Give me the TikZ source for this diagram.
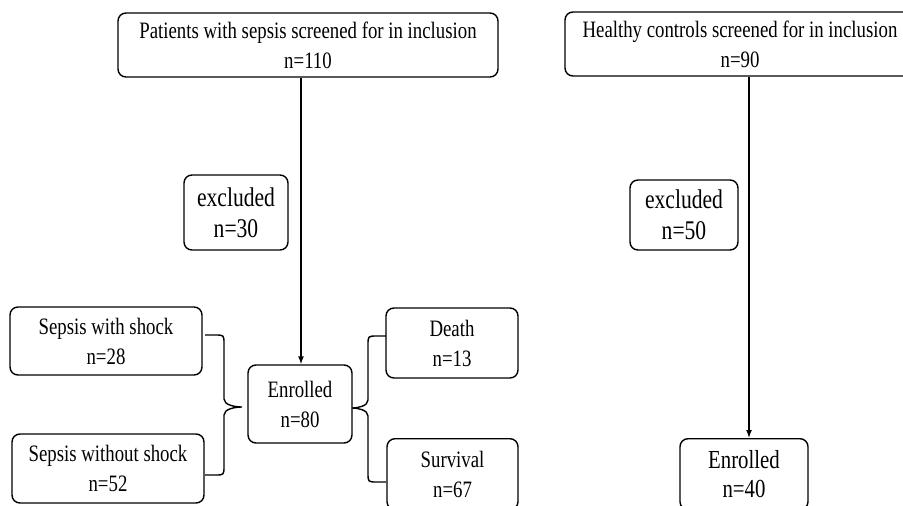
\documentclass[tikz,border=0pt]{standalone}
\usepackage{fontspec}
\setmainfont{Liberation Serif}
\newfontfamily\condserif[FakeStretch=0.8]{Liberation Serif}
\usetikzlibrary{arrows.meta,calc}
\begin{document}
\begin{tikzpicture}[x=1pt,y=-1pt,
  box/.style={draw, rounded corners=8pt, line width=1.4pt, align=center, inner sep=0pt,
    font=\condserif\fontsize{23.5}{30}\selectfont},
  bigbox/.style={box, font=\condserif\fontsize{27}{31}\selectfont},
  conn/.style={line width=1.4pt, -{Latex[length=8pt,width=6pt]}},
  bracel/.style={line width=1.4pt}]
\useasboundingbox (0,0) rectangle (903,506);
\clip (0,0) rectangle (903,506);
% left column
\node[box, minimum width=380pt, minimum height=64pt] (p1) at (308,45) {Patients with sepsis screened for in inclusion\\n=110};
\node[bigbox, minimum width=104pt, minimum height=75pt] (ex1) at (236,212.5) {excluded\\n=30};
\node[box, minimum width=104pt, minimum height=78pt] (en1) at (300,404) {Enrolled\\n=80};
\node[box, minimum width=192pt, minimum height=68pt] (ws) at (106,341) {Sepsis with shock\\n=28};
\node[box, minimum width=192pt, minimum height=69pt] (wos) at (108,468.5) {Sepsis without shock\\n=52};
\node[box, minimum width=132pt, minimum height=70pt] (de) at (452,343) {Death\\n=13};
\node[box, minimum width=131pt, anchor=north, minimum height=71pt] (su) at (452.5,438) {Survival\\n=67};
% right column
\node[box, minimum width=350pt, minimum height=64pt] (h) at (740,44) {Healthy controls screened for in inclusion\\n=90};
\node[bigbox, minimum width=108pt, minimum height=70pt] (ex2) at (684,215) {excluded\\n=50};
\node[box, minimum width=128pt, anchor=north, minimum height=71pt, font=\condserif\fontsize{26}{29}\selectfont] (en2) at (744,438) {Enrolled\\n=40};
% connectors
\draw[conn] (p1.south -| 301,0) -- (en1.north -| 301,0);
\draw[conn] (h.south -| 749,0) -- (en2.north -| 749,0);
% left brace
\coordinate (lbt) at (205,335);
\coordinate (lbb) at (205,475);
\coordinate (lbtip) at (242,407);
\draw[bracel] (lbt) -- (215,335) .. controls (224,335) .. (224,344) -- (224,399)
  .. controls (224,405) and (235,407) .. (lbtip)
  .. controls (235,407) and (224,409) .. (224,415) -- (224,466)
  .. controls (224,475) .. (215,475) -- (lbb);
% right brace
\coordinate (rbt) at (386,336);
\coordinate (rbb) at (386,482);
\coordinate (rbtip) at (352,408);
\draw[bracel] (rbt) -- (377,336) .. controls (368,336) .. (368,345) -- (368,400)
  .. controls (368,406) and (358,408) .. (rbtip)
  .. controls (358,408) and (368,410) .. (368,416) -- (368,473)
  .. controls (368,482) .. (377,482) -- (rbb);
\end{tikzpicture}
\end{document}
